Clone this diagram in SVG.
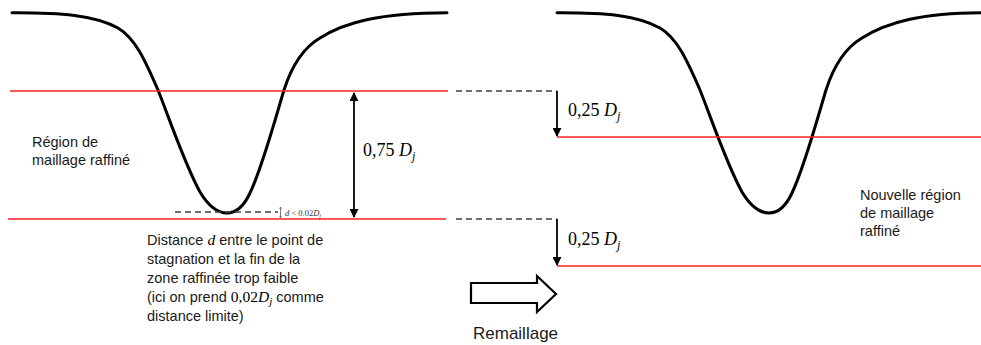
<svg xmlns="http://www.w3.org/2000/svg" width="981" height="345" viewBox="0 0 981 345">
<style>
.curve{fill:none;stroke:#000;stroke-width:3;stroke-linecap:round}
.red{stroke:#ff2020;stroke-width:1.6}
.dash{stroke:#404040;stroke-width:1.6;stroke-dasharray:6,4}
.arr{stroke:#000;stroke-width:1.8}
.t{font-family:"Liberation Sans",Arial,sans-serif;font-size:14.5px;fill:#1a1a1a}
.m{font-family:"Liberation Serif","DejaVu Serif",serif;font-size:18px;fill:#000}
</style>
<defs>
<marker id="ah" viewBox="0 0 10 10" refX="9" refY="5" markerWidth="5" markerHeight="5" orient="auto-start-reverse" markerUnits="strokeWidth">
<path d="M0,0 L10,5 L0,10 z" fill="#000"/>
</marker>
<marker id="sh" viewBox="0 0 10 10" refX="9" refY="5" markerWidth="3" markerHeight="3" orient="auto-start-reverse">
<path d="M0,0 L10,5 L0,10" fill="none" stroke="#555" stroke-width="2"/>
</marker>
</defs>
<rect width="981" height="345" fill="#fff"/>
<g id="left-curve">
<path class="curve" d="M12,12.7 C60,12.5 95,15 118,28 C135,38 145,60 158,90 C168,115 185,165 200,192 C212,212 222,213 227,213 C235,213 243,208 250,193 C262,168 275,120 284,90 C292,65 303,48 320,38 C345,22 380,13 447,12.7"/>
</g>
<g id="right-curve">
<path class="curve" d="M557,12.7 C605,12.5 637,15 660,28 C677,38 687,60 700,90 C710,115 727,165 742,192 C754,212 764,213 769,213 C777,213 785,208 792,193 C804,168 817,120 826,90 C834,65 845,48 862,38 C887,22 922,13 981,12.7"/>
</g>
<g id="lines">
<line class="red" x1="10" y1="91" x2="448" y2="91"/>
<line class="red" x1="8" y1="219" x2="446" y2="219"/>
<line class="red" x1="557" y1="137" x2="981" y2="137"/>
<line class="red" x1="557" y1="266" x2="981" y2="266"/>
</g>
<g id="connectors">
<line class="dash" x1="456" y1="91" x2="557" y2="91"/>
<line class="dash" x1="456" y1="219" x2="557" y2="219"/>
<line class="dash" x1="175" y1="212" x2="278" y2="212"/>
<line x1="280.5" y1="207" x2="280.5" y2="218" stroke="#555" stroke-width="0.8" marker-start="url(#sh)" marker-end="url(#sh)"/>
<line class="arr" x1="354" y1="93" x2="354" y2="217" marker-start="url(#ah)" marker-end="url(#ah)"/>
<line class="arr" x1="557" y1="91" x2="557" y2="136" marker-end="url(#ah)"/>
<line class="arr" x1="557" y1="219" x2="557" y2="265" marker-end="url(#ah)"/>
</g>
<g id="remesh-arrow">
<path d="M471,283 L537,283 L537,276 L556,294 L537,312 L537,303 L471,303 Z" fill="#fff" stroke="#000" stroke-width="2.2" stroke-linejoin="miter"/>
<text x="473" y="339" class="t" style="font-size:17px">Remaillage</text>
</g>
<g id="label-region">
<text class="t" x="32" y="147">Région de</text>
<text class="t" x="32" y="165">maillage raffiné</text>
</g>
<g id="label-075">
<text class="m" x="363" y="156">0,75 <tspan font-style="italic">D</tspan><tspan font-style="italic" font-size="12" dy="4">j</tspan></text>
</g>
<g id="label-d">
<text class="m" x="285" y="216" style="font-size:8.5px;fill:#333"><tspan font-style="italic">d</tspan> &lt; 0.02<tspan font-style="italic">D</tspan><tspan font-style="italic" font-size="6" dy="2">j</tspan></text>
</g>
<g id="label-distance">
<text class="t" x="147" y="245">Distance <tspan class="m" font-style="italic" style="font-size:15.5px">d</tspan> entre le point de</text>
<text class="t" x="147" y="264">stagnation et la fin de la</text>
<text class="t" x="147" y="283">zone raffinée trop faible</text>
<text class="t" x="147" y="302">(ici on prend <tspan class="m" style="font-size:15.5px">0,02<tspan font-style="italic">D</tspan><tspan font-style="italic" font-size="11" dy="3">j</tspan></tspan><tspan dy="-3"> comme</tspan></text>
<text class="t" x="147" y="321">distance limite)</text>
</g>
<g id="label-025a">
<text class="m" x="568" y="116">0,25 <tspan font-style="italic">D</tspan><tspan font-style="italic" font-size="12" dy="4">j</tspan></text>
</g>
<g id="label-025b">
<text class="m" x="568" y="245">0,25 <tspan font-style="italic">D</tspan><tspan font-style="italic" font-size="12" dy="4">j</tspan></text>
</g>
<g id="label-new">
<text class="t" x="860" y="200">Nouvelle région</text>
<text class="t" x="860" y="218">de maillage</text>
<text class="t" x="860" y="236">raffiné</text>
</g>
</svg>
